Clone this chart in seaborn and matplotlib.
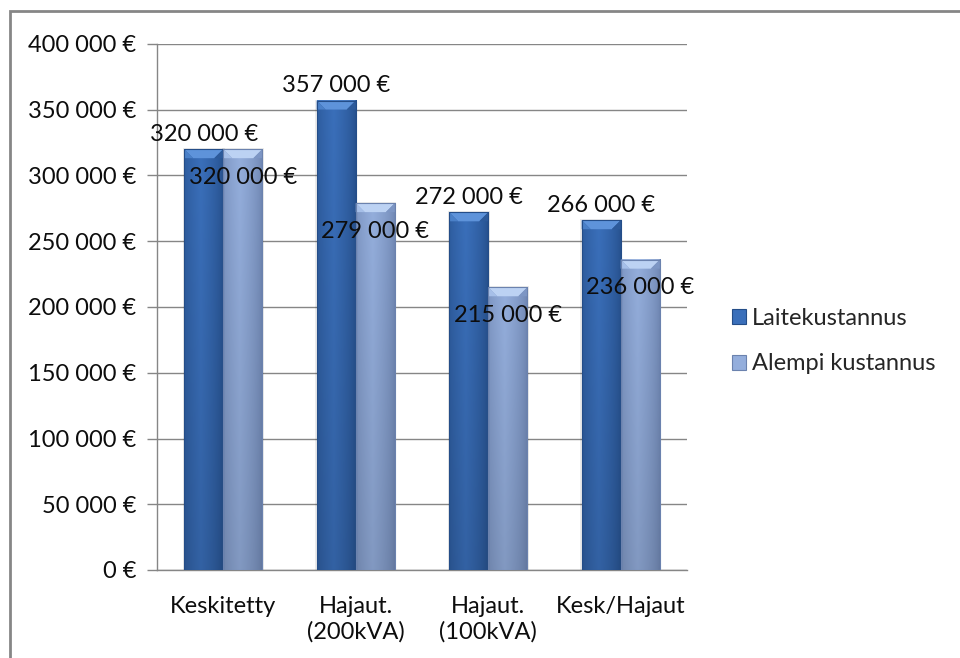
import numpy as np
import pandas as pd
import matplotlib
matplotlib.use("Agg")
import matplotlib.pyplot as plt
import matplotlib.colors as mcolors
from matplotlib.patches import Polygon, Rectangle, Patch
import seaborn as sns

categories = ["Keskitetty", "Hajaut.\n(200kVA)", "Hajaut.\n(100kVA)", "Kesk/Hajaut"]
series_names = ["Laitekustannus", "Alempi kustannus"]
laitekustannus = [320000, 357000, 272000, 266000]
alempi_kustannus = [320000, 279000, 215000, 236000]
y_ticks = [0, 50000, 100000, 150000, 200000, 250000, 300000, 350000, 400000]

def euro(v):
    return f"{v:,.0f}".replace(",", " ") + " €"

df = pd.DataFrame({
    "kategoria": categories * 2,
    "sarja": [series_names[0]] * 4 + [series_names[1]] * 4,
    "arvo": laitekustannus + alempi_kustannus,
})

sns.set_theme(style="white")
plt.rcParams["font.family"] = ["Lato", "DejaVu Sans"]
TXT = 17
INK = "#0d0d0d"
GRID = "#868686"

fig = plt.figure(figsize=(9.6, 6.58), dpi=100)
ax = fig.add_axes([157 / 960, 88 / 658, 530 / 960, 526 / 658])

palette = {series_names[0]: "#3566ad", series_names[1]: "#8da6d4"}
sns.barplot(data=df, x="kategoria", y="arvo", hue="sarja", order=categories,
            hue_order=series_names, palette=palette, width=0.59, ax=ax,
            legend=False, zorder=2, saturation=1)

# shading for each series: (centre, edge, bevel top, bevel left, bevel right)
shades = {
    series_names[0]: ("#3a6fba", "#244d88", "#5e93da", "#4a80c8", "#2d5a9a"),
    series_names[1]: ("#94aedc", "#6b82ae", "#bcd2f3", "#a6bfe8", "#7d96c4"),
}

def gradient_img(center, edge, n=64):
    c = np.array(mcolors.to_rgb(center))
    e = np.array(mcolors.to_rgb(edge))
    xs = np.linspace(0, 1, n)
    # brightest slightly left of centre
    w = np.clip(1 - np.abs(xs - 0.42) / 0.58, 0, 1) ** 0.6
    row = e[None, :] * (1 - w[:, None]) + c[None, :] * w[:, None]
    ys = np.linspace(0, 1, n)  # 0 = top
    vf = 1.0 - 0.12 * ys
    img = row[None, :, :] * vf[:, None, None]
    return np.clip(img, 0, 1)

bar_groups = [(series_names[0], laitekustannus), (series_names[1], alempi_kustannus)]
px_x = 1 / 132.5       # data units per pixel horizontally
px_y = 400000 / 526    # data units per pixel vertically
bev_h = 9 * px_y
bev_d = 9 * px_x

for cont, (name, vals) in zip(ax.containers, bar_groups):
    center, edge, btop, bleft, bright = shades[name]
    img = gradient_img(center, edge)
    for patch, v in zip(cont.patches, vals):
        x0 = patch.get_x()
        w = patch.get_width()
        h = patch.get_height()
        patch.set_alpha(0)
        # soft shadow outline
        ax.add_patch(Rectangle((x0 - 1.5 * px_x, 0), w + 3 * px_x, h + 1 * px_y,
                               facecolor="#000000", alpha=0.08, lw=0, zorder=2))
        ax.imshow(img, extent=[x0, x0 + w, 0, h], aspect="auto", zorder=3,
                  interpolation="bilinear")
        # bevelled top
        ax.add_patch(Polygon([(x0, h), (x0 + w, h), (x0 + w - bev_d, h - bev_h),
                              (x0 + bev_d, h - bev_h)], closed=True,
                             facecolor=btop, lw=0, zorder=4))
        ax.add_patch(Polygon([(x0, h), (x0 + bev_d, h - bev_h), (x0, h - bev_h)],
                             closed=True, facecolor=bleft, lw=0, zorder=4))
        ax.add_patch(Polygon([(x0 + w, h), (x0 + w - bev_d, h - bev_h), (x0 + w, h - bev_h)],
                             closed=True, facecolor=bright, lw=0, zorder=4))
        ax.add_patch(Rectangle((x0, 0), w, h, facecolor="none",
                               edgecolor=edge, lw=0.8, zorder=4))
        xc = x0 + w / 2
        if name == series_names[0]:
            ax.annotate(euro(v), (xc, v), xytext=(0, 15), textcoords="offset pixels",
                        ha="center", va="center", fontsize=TXT, color=INK, zorder=6)
        else:
            ax.annotate(euro(v), (xc, v), xytext=(0, -28), textcoords="offset pixels",
                        ha="center", va="center", fontsize=TXT, color=INK, zorder=6)

ax.set_xlim(-0.5, 3.5)
ax.set_ylim(0, 400000)
ax.set_yticks(y_ticks)
ax.set_yticklabels([euro(v) for v in y_ticks], fontsize=TXT, color=INK)
ax.set_xticks(range(len(categories)))
ax.set_xticklabels(categories, fontsize=TXT, color=INK, linespacing=1.2)
ax.set_xticks([-0.5, 0.5, 1.5, 2.5, 3.5], minor=True)
ax.tick_params(axis="x", which="major", length=0, pad=19)
ax.tick_params(axis="x", which="minor", length=7, width=1, color=GRID, direction="out")
ax.tick_params(axis="y", which="major", length=7, width=1, color=GRID, direction="out",
               left=True, pad=8)
ax.set_xlabel("")
ax.set_ylabel("")
ax.yaxis.grid(True, color=GRID, lw=1)
ax.set_axisbelow(True)
for s in ["top", "right"]:
    ax.spines[s].set_visible(False)
for s in ["left", "bottom"]:
    ax.spines[s].set_color(GRID)
    ax.spines[s].set_linewidth(1)

# legend
handles = [Patch(facecolor=shades[n][0], edgecolor=shades[n][1], lw=0.8) for n in series_names]
fig.legend(handles, series_names, loc="center left", bbox_to_anchor=(732 / 960, 1 - 341 / 658),
           frameon=False, fontsize=TXT, handlelength=0.6, handleheight=0.6,
           handletextpad=0.25, labelspacing=1.05, borderaxespad=0, borderpad=0)

# chart frame
fig.add_artist(Rectangle((10 / 960, -0.05), 1.05, 1 - 11 / 658 + 0.05,
                         transform=fig.transFigure, facecolor="none",
                         edgecolor="#868686", lw=2, zorder=10))

fig.savefig("out.png", dpi=100)
